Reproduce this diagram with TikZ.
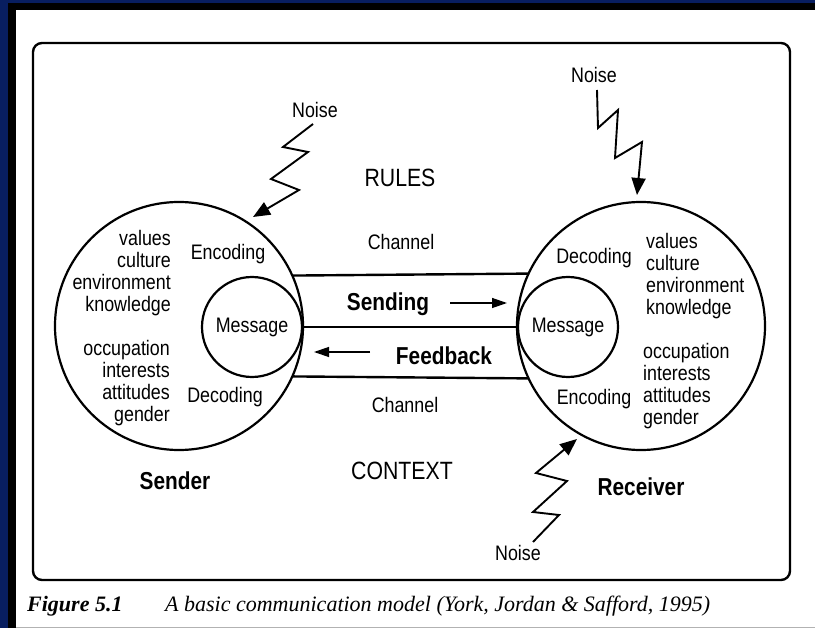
\documentclass[tikz,border=0pt]{standalone}
\usepackage{fontspec}
\setmainfont{Liberation Sans}[FakeStretch=0.85]
\newfontfamily\capfont{Liberation Serif}
\usetikzlibrary{arrows.meta}
\definecolor{navyband}{RGB}{8,30,96}
\begin{document}
\begin{tikzpicture}[x=1pt,y=-1pt,
  body/.style={inner sep=0pt, font=\fontsize{21}{22}\selectfont},
  bigword/.style={inner sep=0pt, font=\fontsize{25}{26}\selectfont},
  boldword/.style={inner sep=0pt, font=\fontsize{24.5}{25}\selectfont\bfseries},
  ring/.style={circle, draw, line width=2.2pt, inner sep=0pt, outer sep=0pt,
    font=\fontsize{21}{22}\selectfont},
  chan/.style={line width=2.4pt},
  flowarrow/.style={line width=1.3pt, -{Triangle[length=15pt,width=10pt]}},
  noisearrow/.style={line width=1.9pt, line join=miter,
    -{Triangle[length=17pt,width=14pt]}}]
\useasboundingbox (0,0) rectangle (815,628);
% page frame
\fill[white] (0,0) rectangle (815,628);
\fill[navyband] (0,0) rectangle (8,628);
\fill[navyband] (0,0) rectangle (815,3);
\fill[black] (8,3) rectangle (16,628);
\fill[black] (8,3) rectangle (815,10);
\draw[gray!60, line width=1pt] (16,627.5) -- (815,627.5);
% outer box
\draw[line width=2.4pt, rounded corners=9pt] (33,43) rectangle (790,580);

% sender and receiver
\node[ring, minimum size=248pt] (snd) at (179,326) {};
\node[ring, minimum size=100pt] (sndmsg) at (252,327) {Message};
\node[ring, minimum size=248pt] (rcv) at (641,326) {};
\node[ring, minimum size=100pt] (rcvmsg) at (568,327) {Message};

\node[body, anchor=east, align=right] (sndtop) at (171,273)
  {values\\culture\\environment\\knowledge};
\node[body, anchor=east, align=right] (sndbot) at (170,383)
  {occupation\\interests\\attitudes\\gender};
\node[body] (sndenc) at (228,254) {Encoding};
\node[body] (snddec) at (225,397) {Decoding};

\node[body, anchor=west, align=left] (rcvtop) at (646,276)
  {values\\culture\\environment\\knowledge};
\node[body, anchor=west, align=left] (rcvbot) at (643,386)
  {occupation\\interests\\attitudes\\gender};
\node[body] (rcvdec) at (594,258) {Decoding};
\node[body] (rcvenc) at (594,399) {Encoding};

% channel
\draw[chan] (snd.24.8) -- (rcv.155.2);
\draw[chan] (snd.-24.8) -- (rcv.-155.2);
\draw[chan] (sndmsg.east) -- (rcvmsg.west);

\node[bigword] (rules) at (400,178) {RULES};
\node[body] (chtop) at (401,242) {Channel};
\node[body] (chbot) at (405,405) {Channel};
\node[bigword] (ctx) at (402,471) {CONTEXT};
\node[boldword] (sendlbl) at (388,304) {Sending};
\node[boldword] (fblbl) at (444,356) {Feedback};
\node[boldword] (sender) at (175,481) {Sender};
\node[boldword] (receiver) at (641,487) {Receiver};

\coordinate (sa) at (450,303);
\coordinate (sb) at (507,303);
\coordinate (fa) at (370,352);
\coordinate (fb) at (314,352);
\draw[flowarrow] (sa) -- (sb);
\draw[flowarrow] (fa) -- (fb);

% noise
\node[body] (noise1) at (315,110) {Noise};
\node[body] (noise2) at (594,75) {Noise};
\node[body] (noise3) at (518,553) {Noise};
\coordinate (n1tip) at (253,217);
\coordinate (n2tip) at (637,195);
\coordinate (n3tip) at (577,439);
\draw[noisearrow] (313,124) -- (283,147) -- (308,152) -- (271,179)
  -- (299,190) -- (n1tip);
\draw[noisearrow] (597,90) -- (598,128) -- (618,110) -- (615,158)
  -- (642,142) -- (n2tip);
\draw[noisearrow] (533,542) -- (559,515) -- (533,512) -- (567,481)
  -- (536,473) -- (n3tip);

% caption
\node[anchor=base west, inner sep=0pt,
  font=\capfont\fontsize{22}{23}\selectfont\bfseries\itshape]
  (figno) at (27,611) {Figure 5.1};
\node[anchor=base west, inner sep=0pt,
  font=\capfont\fontsize{22}{23}\selectfont\itshape]
  (figcap) at (165,611) {A basic communication model (York, Jordan \& Safford, 1995)};
\end{tikzpicture}
\end{document}
